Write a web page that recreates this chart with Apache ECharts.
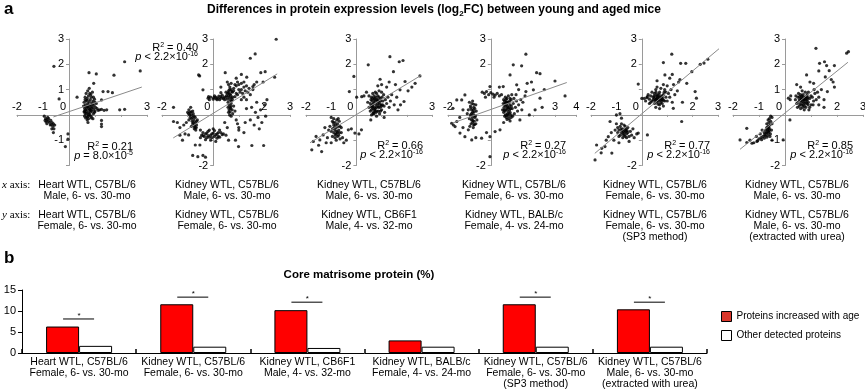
<!DOCTYPE html>
<html><head><meta charset="utf-8">
<script src="https://cdn.jsdelivr.net/npm/echarts@6/dist/echarts.min.js"></script>
<style>html,body{margin:0;padding:0;background:#fff}#c{width:865px;height:390px}</style>
</head><body><div id="c"></div>
<script>
// ---------- DATA ----------
const p1Pts = [[-0.58,1.92],[2.14,2.10],[2.74,1.74],[1.73,1.57],[0.77,1.67],[1.05,1.62],[0.95,1.25],[0.31,0.70],[-0.38,0.63],[1.31,0.92],[1.5,0.92],[1.67,0.88],[1.25,0.59],[1.95,0.2],[2.14,0.22],[1.25,-0.22],[1.25,-0.36],[1.25,-0.46],[0.73,-0.3],[-0.04,-0.75],[-0.04,-0.96],[-0.14,-1.25],[0.8,0.2],
[0.62,0.05],[0.65,0.12],[0.7,0.2],[0.75,0.28],[0.8,0.35],[0.85,0.4],[0.9,0.3],[0.95,0.22],[1.0,0.15],[0.68,0.35],[0.72,0.45],[0.78,0.52],[0.82,0.6],[0.88,0.48],[0.93,0.55],[0.6,0.25],[0.63,0.4],[0.66,0.55],[0.7,0.65],[0.75,0.75],[0.8,0.85],[0.86,0.7],[0.6,-0.05],[0.64,-0.12],[0.7,-0.08],[0.76,0.02],[0.82,0.1],[0.88,0.15],[0.94,0.05],[1.02,0.3],[1.08,0.25],[1.12,0.18],[1.18,0.2],[1.25,0.22],[1.35,0.18],[1.45,0.2],[0.58,0.5],[0.62,0.7],[0.66,0.85],[0.72,0.95],[0.78,1.05],[0.9,0.9],[0.98,0.62],[1.05,0.45],[0.7,-0.2],[0.75,-0.15],[0.85,-0.05],[0.92,-0.15],[0.6,0.15],[0.74,0.1],[0.8,0.22],[0.86,0.28],[0.66,0.3],[0.56,0.35],[0.96,0.38],
[0.64,0.2],[0.68,0.05],[0.72,0.32],[0.76,0.4],[0.84,0.18],[0.9,0.42],[0.98,0.1],[0.7,0.58],[0.8,0.0],[0.86,-0.12],[0.62,0.6],[0.94,0.7],[1.0,0.5],[0.58,0.12],[0.74,-0.05],[0.84,0.8],
[-0.95,-0.05],[-0.9,-0.15],[-0.85,-0.2],[-0.8,-0.25],[-0.75,-0.3],[-0.7,-0.22],[-0.65,-0.3],[-0.6,-0.35],[-0.72,-0.4],[-0.62,-0.45],[-0.55,-0.4],[-0.58,-0.55],[-0.6,-0.7],[-0.85,-0.35],[-0.78,-0.15],[-0.88,-0.28],[-0.68,-0.38],[-0.82,-0.1],[-0.92,-0.22],[-0.66,-0.55]];

const p2Pts = [[-0.2,0.66],[-0.1,0.7],[0.0,0.62],[0.1,0.7],[0.2,0.66],[0.3,0.72],[0.4,0.64],[0.5,0.7],[0.6,0.75],[0.7,0.68],[-0.15,0.6],[0.05,0.75],[0.15,0.6],[0.25,0.6],[0.35,0.78],[0.45,0.6],[0.55,0.62],[0.65,0.82],[0.75,0.6],[0.85,0.72],[0.95,0.8],[1.05,0.9],[1.1,1.0],[1.15,0.85],[1.2,1.1],[1.25,0.95],[0.7,1.0],[0.8,1.05],[0.9,1.15],[1.0,1.2],[1.1,1.25],[0.95,1.3],[1.2,1.3],[0.6,0.95],[0.5,0.9],[1.3,1.15],[1.35,0.9],[1.4,1.05],[0.3,0.88],
[-0.18,0.72],[0.02,0.68],[0.12,0.64],[0.22,0.74],[0.32,0.66],[0.42,0.7],[0.52,0.76],[0.62,0.68],[0.66,0.58],[0.6,0.88],[0.64,1.0],[0.68,0.78],[0.72,0.92],[0.76,0.7],[0.62,0.2],[0.66,0.12],[0.7,0.35],[0.58,0.3],[0.8,0.95],[0.9,0.85],[1.0,1.0],[0.85,1.2],
[0.55,1.3],[0.6,1.2],[0.65,1.1],[0.7,1.25],[0.75,0.9],[0.58,0.5],[0.62,0.4],[0.66,0.3],[0.7,0.45],[0.74,0.2],[0.6,0.1],[0.64,0.0],[0.7,-0.05],[0.76,0.05],[0.68,0.25],[0.72,0.55],[0.56,0.85],[0.8,0.35],[0.85,0.15],[0.9,-0.2],[0.95,-0.35],[1.0,-0.5],[1.0,-0.6],[1.1,0.6],[1.2,0.7],[1.3,0.6],[1.45,0.8],[1.55,1.0],[1.6,1.2],[1.7,1.3],
[1.3,0.25],[1.5,0.3],[1.65,0.1],[1.75,-0.1],[1.85,0.2],[1.9,-0.3],[2.05,-0.05],[1.6,-0.4],[1.8,-0.55],[2.0,0.4],[1.45,-0.2],[1.7,0.5],[2.1,0.6],[1.25,-0.3],[1.2,-0.7],
[2.46,2.99],[1.64,2.41],[1.45,2.24],[-0.53,1.54],[0.47,1.67],[2.03,1.71],[1.86,1.67],[1.31,1.49],[1.55,1.12],[-0.4,0.99],[2.4,1.49],[-0.57,1.58],[1.1,1.6],[0.9,1.45],[0.3,1.1],[1.95,1.3],
[-0.95,0.2],[-0.9,0.1],[-0.85,0.0],[-0.8,0.15],[-0.75,-0.05],[-0.9,-0.1],[-0.85,-0.15],[-0.8,-0.1],[-0.75,-0.2],[-0.7,-0.3],[-0.65,-0.25],[-0.8,-0.35],[-0.75,-0.45],[-0.7,-0.5],[-0.65,-0.4],[-0.68,-0.6],[-0.7,-0.1],[-0.95,-0.2],[-1.0,0.1],[-0.88,0.3],[-1.05,-0.3],[-1.15,-0.4],[-0.62,-0.2],[-0.85,-0.45],[-0.78,0.05],[-0.72,-0.4],
[-0.92,0.0],[-0.82,-0.25],[-0.78,-0.3],[-0.74,-0.55],[-0.86,0.12],[-0.96,0.05],[-0.66,-0.5],
[-0.5,-0.6],[-0.4,-0.7],[-0.3,-0.75],[-0.2,-0.65],[-0.1,-0.8],[0.0,-0.72],[0.1,-0.78],[0.2,-0.85],[0.3,-0.7],[-0.45,-0.8],[-0.35,-0.85],[-0.25,-0.9],[-0.15,-0.6],[-0.05,-0.9],[0.05,-0.62],[0.15,-0.92],[0.25,-0.6],[-0.3,-0.98],[-0.1,-1.0],[0.1,-1.05],[0.4,-0.75],[0.5,-0.8],[-0.5,-0.9],[0.0,-0.55],[-0.2,-0.82],[0.2,-0.7],
[-0.4,-0.82],[-0.25,-0.72],[-0.05,-0.75],[0.15,-0.75],[0.25,-0.88],[0.35,-0.78],[-0.15,-0.88],[0.05,-0.85],
[-1.55,0.3],[-1.55,-0.26],[-1.3,-0.5],[-1.3,-0.8],[-0.96,-0.79],[-0.7,-1.19],[-0.52,-1.19],[-0.8,-1.6],[-0.6,-1.65],[-0.4,-1.6],[-0.3,-1.67],[0.99,-1.25],[1.51,-1.21],[1.97,-1.21],[0.87,-1.0],[0.6,-1.0],[-1.2,-1.0],[-1.4,-0.3],[0.45,-0.3],[0.55,-0.5],[-1.1,-0.75]];

const p3Pts = [[0.5,0.3],[0.55,0.45],[0.6,0.2],[0.62,0.55],[0.65,0.35],[0.68,0.1],[0.7,0.5],[0.72,0.65],[0.75,0.25],[0.78,0.4],[0.8,0.6],[0.82,0.15],[0.85,0.75],[0.88,0.3],[0.9,0.5],[0.92,0.05],[0.95,0.65],[0.98,0.4],[1.0,0.2],[1.05,0.55],[1.08,0.8],[1.1,0.35],[1.15,0.6],[1.2,0.45],[1.25,0.7],[0.6,0.7],[0.65,0.85],[0.7,0.75],[0.75,0.9],[0.8,0.85],[0.9,0.95],[1.0,0.9],[0.55,0.15],[0.6,0.0],[0.7,0.05],[0.8,-0.05],[0.58,0.6],[0.66,0.25],[0.74,0.15],[0.86,0.55],[0.94,0.3],[1.02,0.7],[1.3,0.3],[1.35,0.55],[1.4,0.8],[0.72,0.3],[0.84,0.45],[0.96,0.15],[0.63,0.4],[0.77,0.7],[1.12,0.1],[0.45,0.5],[0.5,0.75],
[0.62,0.3],[0.68,0.45],[0.72,0.2],[0.76,0.55],[0.8,0.3],[0.84,0.6],[0.88,0.15],[0.92,0.42],[0.96,0.55],[1.0,0.35],[0.64,0.65],[0.7,0.6],[0.78,0.1],[0.86,0.35],[0.9,0.7],[1.04,0.4],[0.58,0.35],[0.66,0.05],
[1.33,2.3],[1.7,2.1],[1.85,2.15],[1.47,1.71],[0.47,1.98],[1.93,1.32],[2.52,1.54],[2.33,1.25],[0.94,1.41],[1.73,0.99],[1.89,0.53],[-0.1,1.52],[-0.28,0.92],[0.01,0.7],[0.21,0.72],[0.3,0.75],[1.2,1.1],[1.55,1.2],[1.6,0.7],[1.75,0.4],[2.05,0.95],[2.2,1.1],[1.3,1.3],[1.0,1.2],[0.85,1.15],[1.5,0.4],[1.65,0.2],[0.57,-0.2],[1.1,-0.1],[0.4,0.9],
[-1.0,-0.1],[-0.95,-0.25],[-0.9,-0.4],[-0.85,-0.3],[-0.8,-0.5],[-0.75,-0.35],[-0.7,-0.6],[-0.65,-0.45],[-0.95,-0.55],[-0.9,-0.7],[-0.85,-0.6],[-0.8,-0.75],[-0.75,-0.85],[-0.7,-0.8],[-0.65,-0.95],[-0.6,-0.7],[-1.05,-0.45],[-1.0,-0.65],[-0.85,-0.9],[-0.78,-0.2],[-0.72,-0.15],[-0.68,-0.25],[-0.9,-0.15],[-1.1,-0.6],[-0.95,-0.85],[-0.8,-1.0],[-0.6,-0.5],[-0.55,-0.9],
[-0.88,-0.5],[-0.82,-0.4],[-0.78,-0.65],[-0.72,-0.45],[-0.76,-0.7],[-0.84,-0.78],[-0.68,-0.7],[-0.92,-0.3],
[-1.71,-1.05],[-1.45,-0.99],[-1.32,-0.79],[-1.77,-1.38],[-1.38,-1.45],[-1.5,-1.2],[-1.2,-1.1],[-1.15,-0.9],[-0.32,-0.59],[-0.06,-0.72],[-0.4,-1.0],[0.2,-0.59],[0.1,-0.75],[-0.2,-0.55],[-1.6,-0.85],[-1.0,-1.1],[-0.5,-1.1],[-1.25,-0.5]];

const p4Pts = [[-1.0,0.5],[-0.95,0.35],[-0.9,0.2],[-0.85,0.1],[-0.8,0.0],[-0.75,-0.1],[-0.9,-0.2],[-0.85,-0.3],[-0.8,-0.4],[-0.95,0.0],[-1.0,-0.15],[-0.75,0.25],[-0.7,0.4],[-0.8,0.3],[-0.88,0.45],[-0.92,-0.35],[-0.78,-0.25],[-0.72,-0.05],[-0.68,0.15],[-0.85,0.55],[-1.05,0.2],[-0.82,-0.5],[-0.7,-0.35],[-0.98,-0.45],[-0.65,-0.2],[-1.1,0.05],
[-0.86,-0.1],[-0.82,0.2],[-0.9,0.05],[-0.78,0.12],[-0.84,-0.22],[-0.76,-0.38],[-0.94,0.28],[-0.8,0.42],
[-1.77,0.26],[-1.36,0.59],[-1.21,0.79],[-1.59,-0.26],[-1.67,-0.46],[-1.44,-0.72],[-1.21,-0.86],[-1.05,-0.59],[-1.83,-0.33],[-1.75,-0.4],[-1.59,0.59],[-0.89,-0.99],[-0.7,-0.9],[-1.3,0.2],[-1.45,-0.1],[-1.3,-0.5],
[-0.4,0.9],[-0.3,0.85],[-0.2,0.92],[-0.1,0.8],[0.0,0.88],[0.1,0.82],[0.2,0.78],[0.3,0.85],[0.4,0.75],[0.5,0.8],[0.15,0.7],[-0.25,0.7],
[0.6,0.6],[0.65,0.4],[0.7,0.2],[0.75,0.0],[0.8,0.5],[0.85,0.3],[0.9,0.1],[0.95,-0.1],[0.6,0.1],[0.65,-0.05],[0.7,0.5],[0.75,0.65],[0.8,0.15],[0.85,-0.15],[0.9,0.4],[0.95,0.6],[1.0,0.25],[1.05,0.45],[1.1,0.05],[1.15,0.3],[1.2,0.55],[1.25,0.15],[1.3,0.4],[0.62,0.3],[0.68,0.7],[0.72,-0.1],[0.78,0.35],[0.82,0.75],[0.88,0.55],[0.92,0.25],[0.98,0.8],[1.02,-0.05],[1.08,0.65],[1.18,0.8],[0.58,0.45],[0.55,0.2],[1.4,0.6],[1.5,0.5],[1.6,0.75],[1.45,0.2],[0.66,0.15],[0.74,0.42],[0.86,0.05],[0.96,0.35],[0.64,0.55],[0.76,-0.18],
[0.62,0.2],[0.68,0.0],[0.7,0.35],[0.74,0.5],[0.78,0.05],[0.8,0.28],[0.84,0.5],[0.88,0.2],[0.9,0.65],[0.94,0.0],[0.66,0.45],[0.72,0.6],[0.76,0.25],[0.82,-0.05],
[1.64,2.4],[1.05,1.98],[1.44,1.94],[2.14,1.67],[2.3,1.63],[0.9,1.58],[3.0,1.34],[1.21,1.19],[1.7,1.25],[1.99,0.99],[1.64,0.92],[3.47,0.75],[2.3,0.66],[0.58,1.12],[-0.04,1.12],[1.9,1.3],[2.5,1.0],[1.3,1.0],[0.4,1.1],
[1.36,-0.2],[0.9,-0.24],[2.07,0.2],[-0.04,-0.86],[0.2,-0.66],[0.43,-0.59],[-0.04,-1.65],[-0.43,-0.92],[-0.2,-0.7],[0.6,-0.3],[1.8,0.0],[2.4,0.3]];

const p5Pts = [[0.1,0.65],[0.2,0.68],[0.3,0.62],[0.35,0.75],[0.4,0.55],[0.45,0.7],[0.5,0.85],[0.55,0.6],[0.6,0.5],[0.65,0.75],[0.7,0.9],[0.75,0.65],[0.8,0.45],[0.85,0.8],[0.9,1.0],[0.95,0.7],[1.0,0.55],[1.05,0.85],[0.4,0.9],[0.5,0.45],[0.55,1.0],[0.6,0.8],[0.7,0.4],[0.75,1.05],[0.8,0.6],[0.85,0.35],[0.9,0.55],[0.65,0.55],[0.45,0.6],[0.35,0.5],[0.5,0.65],[0.7,0.7],[0.8,0.75],[0.6,0.65],[0.95,0.9],[1.1,0.7],[1.15,1.0],[1.2,0.5],[1.0,1.15],[0.6,1.1],[0.25,0.8],[0.3,0.45],[0.55,0.3],[0.7,0.25],[0.15,0.55],[0.0,0.65],[0.85,1.2],[1.3,0.8],[1.25,1.2],[0.55,0.75],[0.78,0.55],
[0.58,0.62],[0.62,0.7],[0.66,0.6],[0.72,0.58],[0.76,0.72],[0.82,0.65],[0.68,0.82],[0.52,0.55],[0.48,0.75],[0.74,0.48],[0.86,0.58],[0.64,0.42],[0.56,0.9],[0.88,0.9],
[1.18,2.4],[0.85,2.07],[1.53,2.04],[1.73,2.04],[0.91,1.58],[1.2,1.6],[1.5,1.4],[1.97,1.71],[2.3,2.0],[2.45,2.05],[3.01,2.17],[-0.14,1.22],[1.77,1.25],[1.45,1.3],[2.1,0.92],[2.15,0.66],[1.24,0.26],[1.6,0.5],[1.57,-0.26],[0.22,0.72],[1.4,0.95],[1.1,1.45],[0.6,1.35],[2.6,2.2],
[-1.0,-0.35],[-0.95,-0.5],[-0.9,-0.6],[-0.85,-0.45],[-0.8,-0.7],[-0.75,-0.55],[-0.7,-0.8],[-0.65,-0.6],[-0.6,-0.75],[-0.55,-0.5],[-0.5,-0.85],[-0.45,-0.65],[-0.85,-0.8],[-0.75,-0.9],[-0.65,-0.45],[-0.6,-0.9],[-0.7,-0.4],[-0.8,-0.35],[-0.9,-0.85],[-0.55,-0.7],[-0.4,-0.8],[-0.35,-0.55],[-0.3,-0.9],[-0.95,-0.7],[-1.05,-0.6],[-0.72,-0.65],[-0.62,-0.55],
[-0.78,-0.62],[-0.68,-0.7],[-0.62,-0.65],[-0.74,-0.75],[-0.58,-0.62],[-0.82,-0.55],[-0.66,-0.85],
[-1.84,-1.78],[-1.58,-1.32],[-1.45,-1.25],[-1.78,-1.19],[-1.32,-0.86],[-1.25,-0.26],[-1.0,0.0],[-0.86,0.05],[-0.8,-0.13],[-1.18,-1.51],[-1.1,-1.0],[-0.9,-1.1],[-0.2,-0.75],[0.22,-0.79],[-0.14,-0.72],[-1.4,-1.0],[-1.2,-0.7],[-0.5,-1.05],[-1.6,-1.5]];

const p6Pts = [[0.4,0.6],[0.45,0.45],[0.5,0.7],[0.55,0.35],[0.6,0.55],[0.65,0.75],[0.7,0.4],[0.75,0.6],[0.8,0.3],[0.85,0.8],[0.9,0.5],[0.95,0.65],[1.0,0.4],[1.05,0.7],[1.1,0.55],[1.15,0.85],[1.2,0.6],[0.55,0.6],[0.6,0.25],[0.65,0.5],[0.7,0.8],[0.75,0.35],[0.8,0.65],[0.85,0.45],[0.9,0.9],[0.95,0.3],[1.0,0.75],[0.5,0.5],[0.62,0.68],[0.72,0.58],[0.82,0.5],[0.68,0.3],[0.78,0.9],[0.88,0.68],[0.58,0.42],[0.48,0.3],[1.08,0.4],[1.25,0.9],[1.3,0.7],[1.4,1.0],[0.66,0.95],[0.74,0.2],[0.92,0.2],[1.12,1.0],[0.52,0.85],[0.42,0.75],[0.86,0.6],[0.7,0.62],
[0.62,0.6],[0.66,0.62],[0.72,0.5],[0.76,0.45],[0.78,0.7],[0.82,0.58],[0.64,0.4],[0.7,0.7],[0.56,0.72],[0.88,0.4],[0.6,0.8],[0.84,0.72],
[1.19,2.63],[2.37,2.44],[2.44,2.5],[1.33,2.04],[1.52,2.1],[1.6,1.95],[1.7,1.75],[1.9,1.95],[1.3,1.74],[1.55,1.5],[0.83,1.58],[0.96,1.3],[1.78,1.4],[1.85,1.3],[0.45,1.2],[0.13,0.66],[0.2,0.6],[0.22,0.75],[1.63,0.92],[1.5,0.6],[1.3,0.4],[1.5,0.3],[1.1,1.25],[1.9,1.1],[0.6,1.1],
[-0.55,-0.05],[-0.6,-0.15],[-0.55,-0.25],[-0.62,-0.3],[-0.58,-0.4],[-0.65,-0.45],[-0.6,-0.55],[-0.68,-0.6],[-0.62,-0.7],[-0.72,-0.7],[-0.66,-0.8],[-0.78,-0.78],[-0.7,-0.88],[-0.85,-0.85],[-0.8,-0.92],[-0.92,-0.9],[-0.9,-0.98],[-1.0,-0.95],[-1.05,-1.02],[-0.5,-0.35],[-0.52,-0.6],[-0.56,-0.75],[-0.75,-0.6],[-0.8,-0.7],[-0.7,-0.5],[-0.58,-0.85],[-0.5,-0.1],[-0.65,-0.2],[-0.7,-0.35],[-0.95,-0.75],[-1.1,-0.85],[-0.88,-0.6],
[-0.64,-0.65],[-0.7,-0.72],[-0.6,-0.62],[-0.66,-0.55],[-0.76,-0.82],[-0.62,-0.5],
[-1.73,-0.99],[-1.47,-1.09],[-1.27,-1.12],[-1.08,-1.05],[-1.47,-0.53],[-1.2,-1.1],[-0.07,-0.99],[0.19,-0.2],[-1.35,-1.0],[-0.5,-1.0]];

const scatterSets = [p1Pts, p2Pts, p3Pts, p4Pts, p5Pts, p6Pts];
// regression line endpoints [x,y]
const fitLines = [
  [[-0.6,-0.08],[2.8,1.1]],
  [[-1.56,-0.91],[2.5,1.62]],
  [[-1.84,-1.1],[2.56,1.56]],
  [[-1.78,-0.32],[3.55,1.28]],
  [[-1.85,-1.52],[3.07,2.64]],
  [[-1.73,-1.36],[2.42,2.08]]
];
const r2Vals = ['0.21','0.40','0.66','0.27','0.77','0.85'];
const pTexts = ['= 8.0×10{sup|-5}','< 2.2×10{sup|-16}','< 2.2×10{sup|-16}','< 2.2×10{sup|-16}','< 2.2×10{sup|-16}','< 2.2×10{sup|-16}'];
const xMin = -2, yMin = -2, yMax = 3;
const xMaxes = [3,3,3,4,3,3];
const xTickLabels = [[-2,-1,0,3],[-2,0,2,3],[-2,-1,0,3],[-2,3,4],[-2,-1,0,2,3],[-2,-1,0,2,3]];
const yTickLabels = [[3,2,1,-1],[3,2,-2],[3,2,-2],[3,2,-2],[3,2,-2],[3,2,1,-1,-2]];
const xDesc = ['Heart WTL, C57BL/6\nMale, 6- vs. 30-mo','Kidney WTL, C57BL/6\nMale, 6- vs. 30-mo','Kidney WTL, C57BL/6\nMale, 6- vs. 30-mo','Kidney WTL, C57BL/6\nFemale, 6- vs. 30-mo','Kidney WTL, C57BL/6\nFemale, 6- vs. 30-mo','Kidney WTL, C57BL/6\nMale, 6- vs. 30-mo'];
const yDesc = ['Heart WTL, C57BL/6\nFemale, 6- vs. 30-mo','Kidney WTL, C57BL/6\nFemale, 6- vs. 30-mo','Kidney WTL, CB6F1\nMale, 4- vs. 32-mo','Kidney WTL, BALB/c\nFemale, 4- vs. 24-mo','Kidney WTL, C57BL/6\nFemale, 6- vs. 30-mo\n(SP3 method)','Kidney WTL, C57BL/6\nMale, 6- vs. 30-mo\n(extracted with urea)'];

const barCategories = ['Heart WTL, C57BL/6\nFemale, 6- vs. 30-mo','Kidney WTL, C57BL/6\nFemale, 6- vs. 30-mo','Kidney WTL, CB6F1\nMale, 4- vs. 32-mo','Kidney WTL, BALB/c\nFemale, 4- vs. 24-mo','Kidney WTL, C57BL/6\nFemale, 6- vs. 30-mo\n(SP3 method)','Kidney WTL, C57BL/6\nMale, 6- vs. 30-mo\n(extracted with urea)'];
const increasedVals = [6.3, 11.6, 10.2, 3.0, 11.6, 10.4];
const otherVals = [1.7, 1.5, 1.2, 1.5, 1.5, 1.5];
const sigLevels = [8.1, 13.3, 12.1, null, 13.3, 12.1];
const barYTicks = [0, 5, 10, 15];

// ---------- LAYOUT ----------
const FONT = '"Liberation Sans", Arial, sans-serif';
const gridPos = [{left:17,width:130},{left:162,width:128},{left:306,width:126},{left:448,width:128.4},{left:591,width:127},{left:733,width:130}];
const GTOP = 39, GH = 126.5;
const descCenters = [87,227,369,514,655,797];
const r2Pos = [[133,147],[198,48],[423,146],[566,146],[710,146],[853,146]];

const grids = [], xAxes = [], yAxes = [], series = [], graphics = [];
gridPos.forEach((g, i) => {
  grids.push({left:g.left, width:g.width, top:GTOP, height:GH, outerBoundsMode:'none', containLabel:false});
  // place the axes through the origin (axes cross at 0,0)
  const xOff = -((0 - yMin) / (yMax - yMin)) * GH;
  const yOff = -((0 - xMin) / (xMaxes[i] - xMin)) * g.width;
  xAxes.push({
    gridIndex:i, type:'value', min:xMin, max:xMaxes[i], interval:1, position:'bottom', offset:xOff,
    axisLine:{onZero:false, lineStyle:{color:'#9a9a9a', width:1}},
    axisTick:{show:true, length:2, lineStyle:{color:'#9a9a9a'}},
    splitLine:{show:false},
    axisLabel:{inside:true, margin:2, fontSize:11, color:'#000', fontFamily:FONT,
      showMinLabel:true, showMaxLabel:true, hideOverlap:false,
      formatter:(v)=>{ const r=Math.round(v); if(!xTickLabels[i].includes(r)) return ''; if(r===0) return '{z|0}'; return String(r); },
      rich:{z:{fontSize:11, color:'#000', fontFamily:FONT, padding:[0,12,0,0]}}}
  });
  yAxes.push({
    gridIndex:i, type:'value', min:yMin, max:yMax, interval:1, position:'left', offset:yOff,
    axisLine:{onZero:false, lineStyle:{color:'#9a9a9a', width:1}},
    axisTick:{show:true, length:3, lineStyle:{color:'#9a9a9a'}},
    splitLine:{show:false},
    axisLabel:{margin:5, fontSize:11, color:'#000', fontFamily:FONT, showMinLabel:true, showMaxLabel:true, hideOverlap:false,
      formatter:(v)=>{ const r=Math.round(v); return yTickLabels[i].includes(r) ? String(r) : ''; }}
  });
  series.push({type:'scatter', xAxisIndex:i, yAxisIndex:i, data:scatterSets[i], symbol:'circle', symbolSize:3.2,
    itemStyle:{color:'#000'}, silent:true, z:3});
  series.push({type:'line', xAxisIndex:i, yAxisIndex:i, data:fitLines[i], symbol:'none',
    lineStyle:{color:'#8a8a8a', width:1}, silent:true, z:4});
  graphics.push({type:'text', x:r2Pos[i][0], y:r2Pos[i][1], style:{text:'R{sup|2} = '+r2Vals[i], font:'11px '+FONT, fill:'#000', align:'right', verticalAlign:'middle',
    rich:{sup:{fontSize:7, fontFamily:FONT, fill:'#000', verticalAlign:'top', lineHeight:12}}}});
  graphics.push({type:'text', x:r2Pos[i][0], y:r2Pos[i][1]+8.5, style:{text:'{i|p} '+pTexts[i], font:'11px '+FONT, fill:'#000', align:'right', verticalAlign:'middle',
    rich:{i:{fontStyle:'italic', fontSize:11, fontFamily:FONT, fill:'#000'}, sup:{fontSize:7, fontFamily:FONT, fill:'#000', verticalAlign:'top', lineHeight:12}}}});
  graphics.push({type:'text', x:descCenters[i], y:180, style:{text:xDesc[i], font:'10.5px '+FONT, fill:'#000', align:'center', verticalAlign:'top', lineHeight:11}});
  graphics.push({type:'text', x:descCenters[i], y:209.5, style:{text:yDesc[i], font:'10.5px '+FONT, fill:'#000', align:'center', verticalAlign:'top', lineHeight:11}});
});

// bar chart
grids.push({left:22, width:685, top:290, height:63, outerBoundsMode:'none', containLabel:false});
xAxes.push({gridIndex:6, type:'category', data:barCategories,
  axisLine:{lineStyle:{color:'#000', width:1}},
  axisTick:{show:true, inside:true, length:4, alignWithLabel:false, lineStyle:{color:'#000', width:1.5}},
  axisLabel:{interval:0, fontSize:10.5, lineHeight:11, margin:4, color:'#000', fontFamily:FONT}});
yAxes.push({gridIndex:6, type:'value', min:0, max:15, interval:5,
  axisLine:{show:true, lineStyle:{color:'#000', width:1}},
  axisTick:{show:true, length:4, lineStyle:{color:'#000'}},
  splitLine:{show:false},
  axisLabel:{margin:6, fontSize:11, color:'#000', fontFamily:FONT, formatter:(v)=> barYTicks.includes(v)? String(v):''}});
series.push({name:'Proteins increased with age', type:'bar', xAxisIndex:6, yAxisIndex:6, data:increasedVals, barWidth:33, barGap:'0%',
  itemStyle:{color:'#ff0000', borderColor:'#000', borderWidth:1}, silent:true});
series.push({name:'Other detected proteins', type:'bar', xAxisIndex:6, yAxisIndex:6, data:otherVals, barWidth:33, barGap:'0%',
  itemStyle:{color:'#ffffff', borderColor:'#000', borderWidth:1}, silent:true});
series.push({type:'custom', xAxisIndex:6, yAxisIndex:6, silent:true, z:5,
  data: sigLevels.map((v,i)=>[i,v]).filter(d=>d[1]!=null),
  renderItem:(params, api)=>{
    const p = api.coord([api.value(0), api.value(1)]);
    return {type:'group', children:[
      {type:'line', shape:{x1:p[0]-16, y1:p[1], x2:p[0]+15, y2:p[1]}, style:{stroke:'#000', lineWidth:1}},
      {type:'text', x:p[0], y:p[1]-3, style:{text:'*', font:'8px '+FONT, fill:'#000', align:'center', verticalAlign:'middle'}}
    ]};
  }});

// titles & labels
graphics.push({type:'text', x:4, y:9, style:{text:'a', font:'bold 17px '+FONT, fill:'#000', verticalAlign:'middle'}});
graphics.push({type:'text', x:4, y:258, style:{text:'b', font:'bold 17px '+FONT, fill:'#000', verticalAlign:'middle'}});
graphics.push({type:'text', x:434, y:10, style:{text:'Differences in protein expression levels (log{sub|2}FC) between young and aged mice', font:'bold 12px '+FONT, fill:'#000', align:'center', verticalAlign:'middle',
  rich:{sub:{fontSize:8, fontWeight:'bold', fontFamily:FONT, fill:'#000', verticalAlign:'bottom', lineHeight:15}}}});
graphics.push({type:'text', x:359, y:275, style:{text:'Core matrisome protein (%)', font:'bold 11.5px '+FONT, fill:'#000', align:'center', verticalAlign:'middle'}});
graphics.push({type:'text', x:2, y:185, style:{text:'{i|x} axis:', font:'11px "Liberation Serif", serif', fill:'#000', verticalAlign:'middle',
  rich:{i:{fontStyle:'italic', fontSize:11, fontFamily:'"Liberation Serif", serif', fill:'#000'}}}});
graphics.push({type:'text', x:2, y:215, style:{text:'{i|y} axis:', font:'11px "Liberation Serif", serif', fill:'#000', verticalAlign:'middle',
  rich:{i:{fontStyle:'italic', fontSize:11, fontFamily:'"Liberation Serif", serif', fill:'#000'}}}});

const chart = echarts.init(document.getElementById('c'), null, {renderer:'canvas'});
chart.setOption({
  animation:false,
  backgroundColor:'#fff',
  textStyle:{fontFamily:FONT},
  grid:grids, xAxis:xAxes, yAxis:yAxes, series:series,
  legend:{show:true, orient:'vertical', left:716, top:306, itemWidth:10, itemHeight:10, itemGap:8,
    icon:'rect', selectedMode:false,
    textStyle:{fontSize:10, color:'#000', fontFamily:FONT},
    data:[{name:'Proteins increased with age', itemStyle:{color:'#d9362b', borderColor:'#000', borderWidth:1}},
          {name:'Other detected proteins', itemStyle:{color:'#fff', borderColor:'#000', borderWidth:1}}]},
  graphic:graphics
});
</script></body></html>
